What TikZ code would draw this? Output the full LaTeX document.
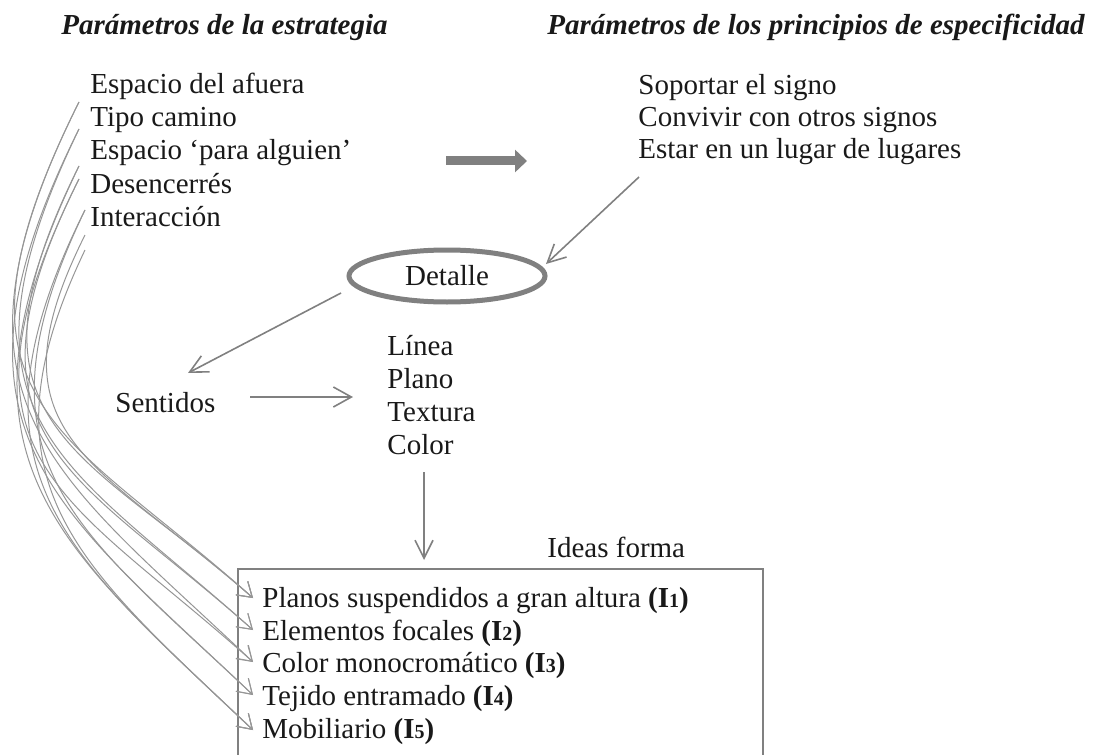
\documentclass[tikz,border=0pt]{standalone}
\usepackage{fontspec}
\setmainfont{Liberation Serif}
\usetikzlibrary{arrows.meta,shapes.geometric}
\definecolor{lg}{RGB}{128,128,128}
\definecolor{cg}{RGB}{150,150,150}
\definecolor{tx}{RGB}{25,25,25}
\tikzset{
  txt/.style={anchor=base west,inner sep=0pt,text=tx,font=\fontsize{14.5}{16.5}\selectfont},
  ttl/.style={anchor=base west,inner sep=0pt,text=tx,font=\fontsize{14.5}{16.5}\selectfont\bfseries\itshape},
  garrow/.style={draw=lg,line width=0.8pt,-{Straight Barb[length=9pt,width=9pt,line width=0.8pt]}},
  carrow/.style={draw=cg,line width=0.5pt,-{Straight Barb[length=7pt,width=9pt,line width=0.5pt]}},
}
\begin{document}
\begin{tikzpicture}[x=0.5pt,y=-0.5pt]
\useasboundingbox (0,0) rectangle (1095,754);
\clip (0,0) rectangle (1095,754);
% titles
\node[ttl,anchor=base east] (t1) at (388,35) {Parámetros de la estrategia};
\node[ttl] (t2) at (547,35) {Parámetros de los principios de especificidad};
% left list
\node[txt] (l1) at (90,94) {Espacio del afuera};
\node[txt] (l2) at (90,127) {Tipo camino};
\node[txt] (l3) at (90,160) {Espacio ‘para alguien’};
\node[txt] (l4) at (90,193) {Desencerrés};
\node[txt] (l5) at (90,226) {Interacción};
% right list
\node[txt] (r1) at (638,95) {Soportar el signo};
\node[txt] (r2) at (638,127) {Convivir con otros signos};
\node[txt] (r3) at (638,159) {Estar en un lugar de lugares};
% thick arrow
\coordinate (ta) at (446,161);
\coordinate (tb) at (527,161);
\draw[lg,line width=4.5pt,-{Triangle[length=6pt,width=11pt]}] (ta) -- (tb);
% Detalle
\node[ellipse,draw=lg,line width=2.5pt,minimum width=98pt,minimum height=26pt,inner sep=0pt,text=tx,font=\fontsize{14.5}{16.5}\selectfont] (det) at (447,276) {Detalle};
\coordinate (es) at (639,177);
\coordinate (ee) at (546,264);
\draw[garrow] (es) -- (ee);
% Sentidos
\node[txt] (sen) at (115,412) {Sentidos};
\coordinate (ds) at (341,293);
\coordinate (de) at (188,373);
\draw[garrow] (ds) -- (de);
% Linea list
\node[txt] (m1) at (387,355) {Línea};
\node[txt] (m2) at (387,388) {Plano};
\node[txt] (m3) at (387,421) {Textura};
\node[txt] (m4) at (387,454) {Color};
\coordinate (ss) at (250,397);
\coordinate (se) at (353,397);
\draw[draw=lg,line width=0.8pt,-{Straight Barb[length=9pt,width=10pt,line width=0.8pt]}] (ss) -- (se);
\coordinate (cs) at (424,472);
\coordinate (ce) at (424,560);
\draw[garrow] (cs) -- (ce);
% Ideas box
\node[txt] (idf) at (547,557) {Ideas forma};
\draw[lg,line width=1pt] (238,770) -- (238,569) -- (763,569) -- (763,770);
\node[txt] (i1) at (262,607) {Planos suspendidos a gran altura \textbf{(I}{\fontsize{10}{12}\selectfont\bfseries 1}\textbf{)}};
\node[txt] (i2) at (262,640) {Elementos focales \textbf{(I}{\fontsize{10}{12}\selectfont\bfseries 2}\textbf{)}};
\node[txt] (i3) at (262,672) {Color monocromático \textbf{(I}{\fontsize{10}{12}\selectfont\bfseries 3}\textbf{)}};
\node[txt] (i4) at (262,705) {Tejido entramado \textbf{(I}{\fontsize{10}{12}\selectfont\bfseries 4}\textbf{)}};
\node[txt] (i5) at (262,738) {Mobiliario \textbf{(I}{\fontsize{10}{12}\selectfont\bfseries 5}\textbf{)}};
% curve starts and ends
\coordinate (s1) at (79,102);
\coordinate (s2) at (79,129);
\coordinate (s3) at (79,166);
\coordinate (s4) at (79,179);
\coordinate (s5) at (85,210);
\coordinate (s6) at (85,235);
\coordinate (s7) at (85,250);
\coordinate (e1) at (253,598);
\coordinate (e2) at (253,630);
\coordinate (e3) at (253,662);
\coordinate (e4) at (253,695);
\coordinate (e5) at (253,730);
\draw[carrow] (s1) .. controls +(-150,300) and +(-190,-170) .. (e1);
\draw[carrow] (s1) .. controls +(-150,300) and +(-200,-190) .. (e3);
\draw[carrow] (s2) .. controls +(-140,290) and +(-190,-170) .. (e2);
\draw[carrow] (s2) .. controls +(-150,300) and +(-200,-190) .. (e4);
\draw[carrow] (s3) .. controls +(-130,260) and +(-170,-150) .. (e1);
\draw[carrow] (s3) .. controls +(-140,290) and +(-200,-190) .. (e5);
\draw[carrow] (s4) .. controls +(-130,260) and +(-180,-160) .. (e2);
\draw[carrow] (s4) .. controls +(-140,280) and +(-190,-170) .. (e3);
\draw[carrow] (s5) .. controls +(-120,250) and +(-180,-170) .. (e4);
\draw[carrow] (s5) .. controls +(-130,260) and +(-190,-180) .. (e5);
\draw[carrow] (s6) .. controls +(-100,200) and +(-160,-140) .. (e1);
\draw[carrow] (s7) .. controls +(-110,230) and +(-180,-170) .. (e5);
\end{tikzpicture}
\end{document}
